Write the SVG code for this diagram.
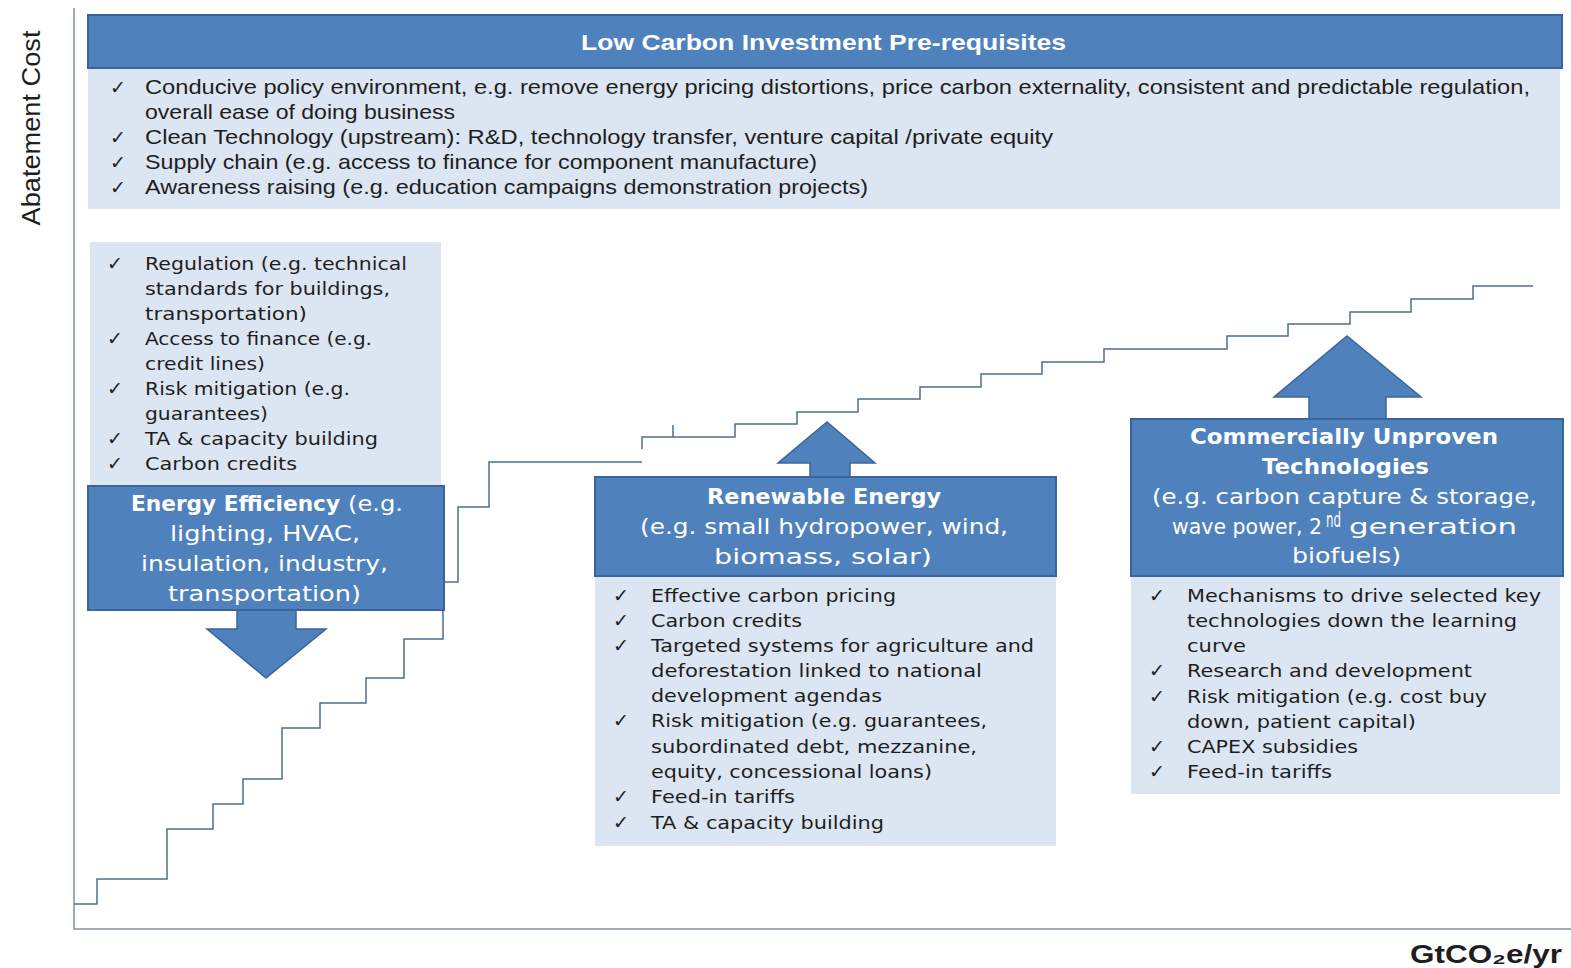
<svg xmlns="http://www.w3.org/2000/svg" width="1571" height="968" viewBox="0 0 1571 968">
  <style>
    .panel { fill: #dce6f2; }
    .head { fill: #4f81bd; stroke: #3a659a; stroke-width: 2; }
    .arrow { fill: #4f81bd; stroke: #3a659a; stroke-width: 1.5; stroke-linejoin: miter; }
    .axis { fill: none; stroke: #7f93a7; stroke-width: 1.5; }
    .stair { fill: none; stroke: #4d6d8e; stroke-width: 1.5; }
    .lead { font-family: "Liberation Sans", Arial, sans-serif; font-size: 21px; fill: #1e1e1e; }
    .item { font-family: "DejaVu Sans", Verdana, sans-serif; font-size: 18px; fill: #1e1e1e; }
    .tick { font-family: "DejaVu Sans", sans-serif; font-size: 19px; fill: #1e1e1e; }
    .title { font-family: "DejaVu Sans", Verdana, sans-serif; font-size: 21px; fill: #ffffff; text-anchor: start; }
    .bold { font-weight: bold; }
    .hdr { font-family: "Liberation Sans", Arial, sans-serif; font-size: 22px; font-weight: bold; fill: #ffffff; }
    .lbl { font-family: "Liberation Sans", Arial, sans-serif; font-size: 25px; fill: #1e1e1e; }
  </style>

  <rect width="1571" height="968" fill="#ffffff"/>

  <!-- axes and abatement staircase -->
  <g id="chart">
    <polyline class="axis" points="74,8 74,929 1571,929"/>
    <g id="staircase">
      <polyline class="stair" points="74,904 97,904 97,879 167,879 167,829 213,829 213,804 243,804 243,779 282,779 282,728 320,728 320,703 366,703 366,678 404,678 404,639 443,639 443,582 458,582 458,507 489,507 489,462 642,462"/>
      <polyline class="stair" points="642,449 642,437 735,437 735,424 797,424 797,412 858,412 858,399 920,399 920,387 981,387 981,374 1042,374 1042,362 1104,362 1104,349 1227,349 1227,336 1288,336 1288,324 1350,324 1350,312 1411,312 1411,299 1473,299 1473,286 1533,286"/>
      <line class="stair" x1="673" y1="437" x2="673" y2="425"/>
    </g>
    <text class="lbl" transform="translate(40,128) rotate(-90)" text-anchor="middle" textLength="195" lengthAdjust="spacingAndGlyphs">Abatement Cost</text>
    <text class="lbl bold" x="1410" y="963" textLength="152" lengthAdjust="spacingAndGlyphs">GtCO₂e/yr</text>
  </g>

  <!-- general prerequisites -->
  <g id="prerequisites">
    <rect class="panel" x="88" y="68" width="1472" height="141"/>
    <rect class="head" x="88" y="15" width="1474" height="53"/>
    <text class="hdr" x="581" y="50" textLength="485" lengthAdjust="spacingAndGlyphs">Low Carbon Investment Pre-requisites</text>
    <text class="tick" x="110" y="94">✓</text>
    <text class="lead" x="145" y="94" textLength="1385" lengthAdjust="spacingAndGlyphs">Conducive policy environment, e.g. remove energy pricing distortions, price carbon externality, consistent and predictable regulation,</text>
    <text class="lead" x="145" y="119" textLength="310" lengthAdjust="spacingAndGlyphs">overall ease of doing business</text>
    <text class="tick" x="110" y="144">✓</text>
    <text class="lead" x="145" y="144" textLength="908" lengthAdjust="spacingAndGlyphs">Clean Technology (upstream): R&amp;D, technology transfer, venture capital /private equity</text>
    <text class="tick" x="110" y="169">✓</text>
    <text class="lead" x="145" y="169" textLength="672" lengthAdjust="spacingAndGlyphs">Supply chain (e.g. access to finance for component manufacture)</text>
    <text class="tick" x="110" y="194">✓</text>
    <text class="lead" x="145" y="194" textLength="723" lengthAdjust="spacingAndGlyphs">Awareness raising (e.g. education campaigns demonstration projects)</text>
  </g>

  <!-- energy efficiency: measures above, box with down arrow -->
  <g id="energy-efficiency">
    <rect class="panel" x="90" y="242" width="351" height="246"/>
    <g>
      <text class="tick" x="107" y="270">✓</text>
      <text class="item" x="145" y="270" textLength="262" lengthAdjust="spacingAndGlyphs">Regulation (e.g. technical</text>
      <text class="item" x="145" y="295" textLength="245" lengthAdjust="spacingAndGlyphs">standards for buildings,</text>
      <text class="item" x="145" y="320" textLength="162" lengthAdjust="spacingAndGlyphs">transportation)</text>
      <text class="tick" x="107" y="345">✓</text>
      <text class="item" x="145" y="345" textLength="227" lengthAdjust="spacingAndGlyphs">Access to finance (e.g.</text>
      <text class="item" x="145" y="370" textLength="120" lengthAdjust="spacingAndGlyphs">credit lines)</text>
      <text class="tick" x="107" y="395">✓</text>
      <text class="item" x="145" y="395" textLength="205" lengthAdjust="spacingAndGlyphs">Risk mitigation (e.g.</text>
      <text class="item" x="145" y="420" textLength="123" lengthAdjust="spacingAndGlyphs">guarantees)</text>
      <text class="tick" x="107" y="445">✓</text>
      <text class="item" x="145" y="445" textLength="233" lengthAdjust="spacingAndGlyphs">TA &amp; capacity building</text>
      <text class="tick" x="107" y="470">✓</text>
      <text class="item" x="145" y="470" textLength="152" lengthAdjust="spacingAndGlyphs">Carbon credits</text>
    </g>
    <polygon class="arrow" points="237,605 296,605 296,629 326,629 266,678 207,629 237,629"/>
    <rect class="head" x="88" y="486" width="356" height="124"/>
    <text class="title bold" x="131" y="511" textLength="209" lengthAdjust="spacingAndGlyphs">Energy Efficiency</text>
    <text class="title" x="348" y="511" textLength="55" lengthAdjust="spacingAndGlyphs">(e.g.</text>
    <text class="title" x="170" y="541" textLength="190" lengthAdjust="spacingAndGlyphs">lighting, HVAC,</text>
    <text class="title" x="141" y="571" textLength="247" lengthAdjust="spacingAndGlyphs">insulation, industry,</text>
    <text class="title" x="168" y="601" textLength="193" lengthAdjust="spacingAndGlyphs">transportation)</text>
  </g>

  <!-- renewable energy: box with up arrow, measures below -->
  <g id="renewable-energy">
    <rect class="panel" x="595" y="576" width="461" height="270"/>
    <polygon class="arrow" points="810,481 810,463 778,463 827,422 875,463 850,463 850,481"/>
    <rect class="head" x="595" y="477" width="461" height="99"/>
    <text class="title bold" x="707" y="504" textLength="234" lengthAdjust="spacingAndGlyphs">Renewable Energy</text>
    <text class="title" x="640" y="534" textLength="368" lengthAdjust="spacingAndGlyphs">(e.g. small hydropower, wind,</text>
    <text class="title" x="714" y="564" textLength="218" lengthAdjust="spacingAndGlyphs">biomass, solar)</text>
    <g>
      <text class="tick" x="613" y="602">✓</text>
      <text class="item" x="651" y="602" textLength="245" lengthAdjust="spacingAndGlyphs">Effective carbon pricing</text>
      <text class="tick" x="613" y="627">✓</text>
      <text class="item" x="651" y="627" textLength="151" lengthAdjust="spacingAndGlyphs">Carbon credits</text>
      <text class="tick" x="613" y="652">✓</text>
      <text class="item" x="651" y="652" textLength="383" lengthAdjust="spacingAndGlyphs">Targeted systems for agriculture and</text>
      <text class="item" x="651" y="677" textLength="331" lengthAdjust="spacingAndGlyphs">deforestation linked to national</text>
      <text class="item" x="651" y="702" textLength="231" lengthAdjust="spacingAndGlyphs">development agendas</text>
      <text class="tick" x="613" y="727">✓</text>
      <text class="item" x="651" y="727" textLength="336" lengthAdjust="spacingAndGlyphs">Risk mitigation (e.g. guarantees,</text>
      <text class="item" x="651" y="753" textLength="326" lengthAdjust="spacingAndGlyphs">subordinated debt, mezzanine,</text>
      <text class="item" x="651" y="778" textLength="281" lengthAdjust="spacingAndGlyphs">equity, concessional loans)</text>
      <text class="tick" x="613" y="803">✓</text>
      <text class="item" x="651" y="803" textLength="144" lengthAdjust="spacingAndGlyphs">Feed-in tariffs</text>
      <text class="tick" x="613" y="829">✓</text>
      <text class="item" x="651" y="829" textLength="233" lengthAdjust="spacingAndGlyphs">TA &amp; capacity building</text>
    </g>
  </g>

  <!-- commercially unproven technologies: box with up arrow, measures below -->
  <g id="unproven-technologies">
    <rect class="panel" x="1131" y="576" width="429" height="218"/>
    <polygon class="arrow" points="1309,423 1309,397 1274,397 1347,336 1421,397 1386,397 1386,423"/>
    <rect class="head" x="1131" y="419" width="432" height="157"/>
    <text class="title bold" x="1190" y="444" textLength="308" lengthAdjust="spacingAndGlyphs">Commercially Unproven</text>
    <text class="title bold" x="1262" y="474" textLength="167" lengthAdjust="spacingAndGlyphs">Technologies</text>
    <text class="title" x="1152" y="504" textLength="385" lengthAdjust="spacingAndGlyphs">(e.g. carbon capture &amp; storage,</text>
    <text class="title" x="1172" y="534" textLength="150" lengthAdjust="spacingAndGlyphs">wave power, 2</text>
    <text class="title" x="1326" y="527" font-size="12" textLength="15" lengthAdjust="spacingAndGlyphs">nd</text>
    <text class="title" x="1349" y="534" textLength="168" lengthAdjust="spacingAndGlyphs">generation</text>
    <text class="title" x="1292" y="563" textLength="109" lengthAdjust="spacingAndGlyphs">biofuels)</text>
    <g>
      <text class="tick" x="1149" y="602">✓</text>
      <text class="item" x="1187" y="602" textLength="354" lengthAdjust="spacingAndGlyphs">Mechanisms to drive selected key</text>
      <text class="item" x="1187" y="627" textLength="330" lengthAdjust="spacingAndGlyphs">technologies down the learning</text>
      <text class="item" x="1187" y="652" textLength="59" lengthAdjust="spacingAndGlyphs">curve</text>
      <text class="tick" x="1149" y="677">✓</text>
      <text class="item" x="1187" y="677" textLength="285" lengthAdjust="spacingAndGlyphs">Research and development</text>
      <text class="tick" x="1149" y="703">✓</text>
      <text class="item" x="1187" y="703" textLength="300" lengthAdjust="spacingAndGlyphs">Risk mitigation (e.g. cost buy</text>
      <text class="item" x="1187" y="728" textLength="229" lengthAdjust="spacingAndGlyphs">down, patient capital)</text>
      <text class="tick" x="1149" y="753">✓</text>
      <text class="item" x="1187" y="753" textLength="171" lengthAdjust="spacingAndGlyphs">CAPEX subsidies</text>
      <text class="tick" x="1149" y="778">✓</text>
      <text class="item" x="1187" y="778" textLength="145" lengthAdjust="spacingAndGlyphs">Feed-in tariffs</text>
    </g>
  </g>
</svg>
